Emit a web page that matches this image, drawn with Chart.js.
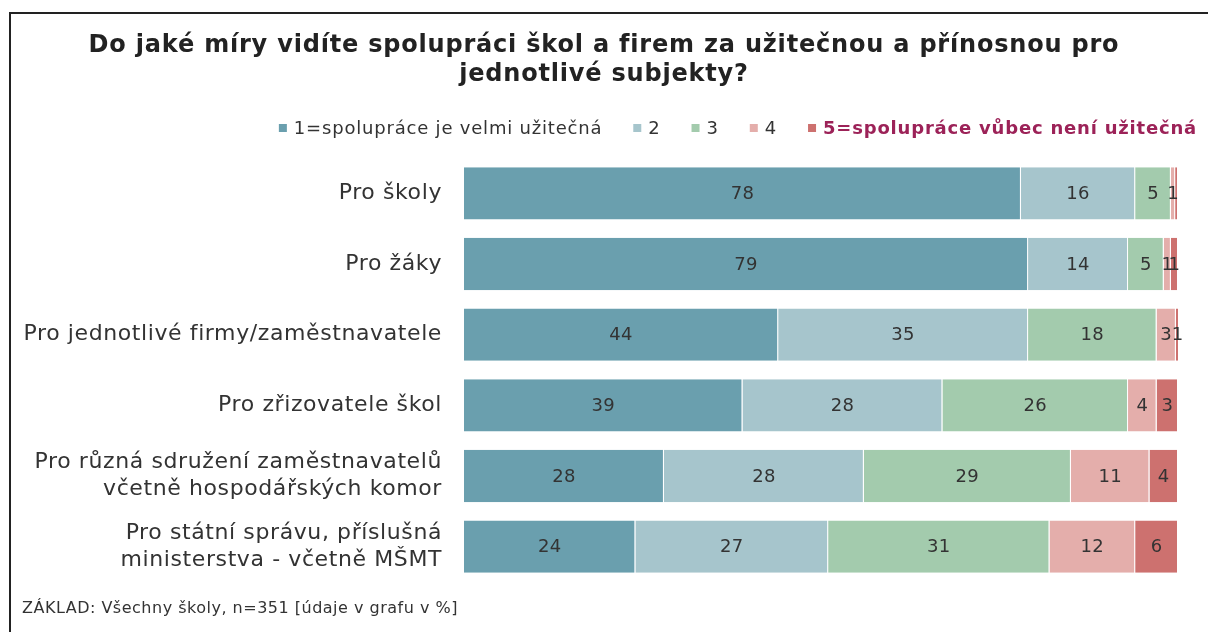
<!DOCTYPE html>
<html><head><meta charset="utf-8">
<script src="https://cdn.jsdelivr.net/npm/chart.js@4/dist/chart.umd.min.js"></script>
<style>
html,body{margin:0;padding:0;background:#fff;overflow:hidden}
#wrap{position:relative;width:1208px;height:632px}
#frame{position:absolute;left:9px;top:12px;width:1210px;height:640px;border:2px solid #222;box-sizing:border-box}
canvas{position:absolute;left:0;top:0}
</style></head><body>
<div id="wrap"><div id="frame"></div><canvas id="c" width="1208" height="632"></canvas></div>
<script>
const titleLines = ["Do jaké míry vidíte spolupráci škol a firem za užitečnou a přínosnou pro","jednotlivé subjekty?"];
const footerText = "ZÁKLAD: Všechny školy, n=351 [údaje v grafu v %]";
const categories = [["Pro školy"],["Pro žáky"],["Pro jednotlivé firmy/zaměstnavatele"],["Pro zřizovatele škol"],["Pro různá sdružení zaměstnavatelů","včetně hospodářských komor"],["Pro státní správu, příslušná","ministerstva - včetně MŠMT"]];
const seriesNames = ["1=spolupráce je velmi užitečná","2","3","4","5=spolupráce vůbec není užitečná"];
const series1 = [78,79,44,39,28,24];
const series2 = [16,14,35,28,28,27];
const series3 = [5,5,18,26,29,31];
const series4 = [0.6,1,2.7,4,11,12];
const series5 = [0.4,1,0.5,3,4,6];
const colors = ["#6a9fae","#a6c5cc","#a3cbad","#e4aeab","#cd716f"];
const FONT = "'DejaVu Sans', Verdana, sans-serif";

const allSeries = [series1,series2,series3,series4,series5];

const spacingPlugin = {
  id:'spacing',
  beforeDraw(chart){ chart.ctx.letterSpacing = '0.6px'; }
};

const labelPlugin = {
  id:'segLabels',
  afterDatasetsDraw(chart){
    const ctx = chart.ctx;
    ctx.save();
    ctx.letterSpacing = '0.3px';
    ctx.font = "18px " + FONT;
    ctx.fillStyle = "#333";
    ctx.textAlign = "center";
    ctx.textBaseline = "middle";
    chart.data.datasets.forEach((ds,i)=>{
      const meta = chart.getDatasetMeta(i);
      meta.data.forEach((bar,j)=>{
        const v = ds.data[j];
        if (v < 0.5) return;
        const p = bar.getProps(['x','y','base'],true);
        ctx.fillText(String(Math.round(v)), (p.x+p.base)/2, p.y+1);
      });
    });
    ctx.restore();
  }
};

const decoPlugin = {
  id:'deco',
  afterDraw(chart){
    const ctx = chart.ctx;
    ctx.save();
    // title
    ctx.letterSpacing = '0.8px';
    ctx.font = "bold 24px " + FONT;
    ctx.fillStyle = "#222";
    ctx.textAlign = "center";
    ctx.textBaseline = "middle";
    ctx.fillText(titleLines[0], 604, 46);
    ctx.fillText(titleLines[1], 604, 75);
    // legend (right aligned, ending at x=1196)
    ctx.letterSpacing = '0.8px';
    const normFont = "18px " + FONT;
    const boldFont = "bold 18px " + FONT;
    const gapBox = 7, box = 8, itemGap = 31;
    const widths = seriesNames.map((n,i)=>{
      ctx.font = (i===4?boldFont:normFont);
      return box + gapBox + ctx.measureText(n).width;
    });
    let total = widths.reduce((a,b)=>a+b,0) + itemGap*(seriesNames.length-1);
    let x = 1197 - total;
    const y = 128;
    ctx.textAlign = "left";
    seriesNames.forEach((n,i)=>{
      ctx.fillStyle = colors[i];
      ctx.fillRect(x, y-4, box, box);
      ctx.font = (i===4?boldFont:normFont);
      ctx.fillStyle = (i===4?"#9c2258":"#333");
      ctx.fillText(n, x+box+gapBox, y+1);
      x += widths[i] + itemGap;
    });
    // footer
    ctx.letterSpacing = '0.5px';
    ctx.font = "16px " + FONT;
    ctx.fillStyle = "#333";
    ctx.fillText(footerText, 22, 609);
    ctx.restore();
  }
};

new Chart(document.getElementById('c'), {
  type:'bar',
  data:{
    labels: categories,
    datasets: allSeries.map((s,i)=>({
      label: seriesNames[i],
      data: s,
      backgroundColor: colors[i],
      borderColor: '#ffffff',
      borderWidth: {left:0,top:0,bottom:0,right:1},
      borderSkipped: false,
      barPercentage: 0.74,
      categoryPercentage: 1.0
    }))
  },
  options:{
    indexAxis:'y',
    responsive:false,
    animation:false,
    devicePixelRatio:1,
    layout:{padding:{left:0,right:30,top:158,bottom:50}},
    plugins:{legend:{display:false},title:{display:false},tooltip:{enabled:false}},
    scales:{
      x:{stacked:true,min:0,max:100,display:false},
      y:{stacked:true,
        grid:{display:false,drawTicks:false},
        border:{display:false},
        ticks:{font:{family:FONT,size:22,lineHeight:27/22},color:'#333',padding:22},
        afterFit(scale){scale.width = 464;}
      }
    }
  },
  plugins:[spacingPlugin, labelPlugin, decoPlugin]
});
</script>
</body></html>
